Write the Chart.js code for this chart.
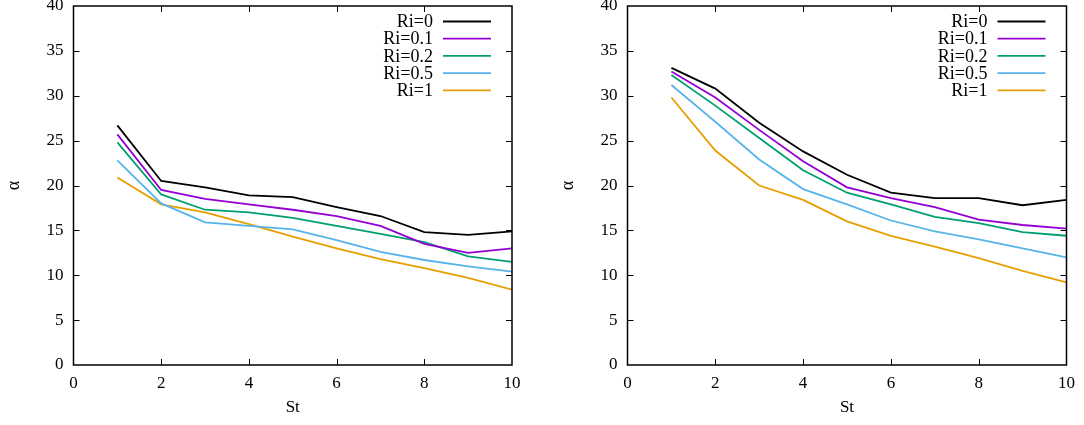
<!DOCTYPE html>
<html><head><meta charset="utf-8">
<script src="https://cdn.jsdelivr.net/npm/chart.js@4/dist/chart.umd.min.js"></script>
<style>
html,body{margin:0;padding:0;background:#fff;}
body{width:1084px;height:425px;position:relative;overflow:hidden;}
canvas{position:absolute;top:0;}
</style></head><body>
<canvas id="c1" width="554" height="425" style="left:0px"></canvas>
<canvas id="c2" width="530" height="425" style="left:554px"></canvas>
<script>
// ---- data ----
const St = [1, 2, 3, 4, 5, 6, 7, 8, 9, 10];
const seriesLabels = ['Ri=0', 'Ri=0.1', 'Ri=0.2', 'Ri=0.5', 'Ri=1'];
const seriesColors = ['#000000', '#9400d3', '#009e73', '#56b4e9', '#e69f00'];
const xTickValues = [0, 2, 4, 6, 8, 10];
const yTickValues = [0, 5, 10, 15, 20, 25, 30, 35, 40];
const xTitle = 'St';
const yTitle = 'α';

// left panel
const leftRi0   = [26.7, 20.5, 19.8, 18.9, 18.7, 17.6, 16.6, 14.8, 14.5, 14.9];
const leftRi01  = [25.7, 19.5, 18.5, 17.9, 17.3, 16.6, 15.5, 13.5, 12.5, 13.0];
const leftRi02  = [24.8, 19.0, 17.3, 17.0, 16.4, 15.5, 14.6, 13.7, 12.1, 11.5];
const leftRi05  = [22.8, 18.0, 15.9, 15.5, 15.1, 13.9, 12.6, 11.7, 11.0, 10.4];
const leftRi1   = [20.9, 17.9, 17.0, 15.7, 14.3, 13.0, 11.8, 10.8, 9.7, 8.4];
// right panel
const rightRi0  = [33.1, 30.8, 27.0, 23.8, 21.2, 19.2, 18.6, 18.6, 17.8, 18.4];
const rightRi01 = [32.7, 29.8, 26.2, 22.7, 19.8, 18.6, 17.6, 16.2, 15.6, 15.2];
const rightRi02 = [32.3, 28.9, 25.3, 21.7, 19.2, 17.9, 16.5, 15.8, 14.8, 14.4];
const rightRi05 = [31.2, 27.1, 22.9, 19.6, 17.9, 16.1, 14.9, 14.0, 13.0, 12.0];
const rightRi1  = [29.8, 23.9, 20.0, 18.4, 16.0, 14.4, 13.2, 11.9, 10.5, 9.2];

const leftSeries = [leftRi0, leftRi01, leftRi02, leftRi05, leftRi1];
const rightSeries = [rightRi0, rightRi01, rightRi02, rightRi05, rightRi1];

Chart.defaults.color = '#000';
const FONT = 'Liberation Serif, Times New Roman, serif';

const framePlugin = {
  id: 'frame',
  afterDatasetsDraw(chart) {
    const {ctx, chartArea: a, scales} = chart;
    ctx.save();
    ctx.strokeStyle = '#000';
    ctx.lineWidth = 1;
    const tl = 6;
    ctx.beginPath();
    xTickValues.forEach(v => {
      const px = Math.round(scales.x.getPixelForValue(v)) + 0.5;
      if (v !== xTickValues[0] && v !== xTickValues[xTickValues.length - 1]) {
        ctx.moveTo(px, a.bottom); ctx.lineTo(px, a.bottom - tl);
        ctx.moveTo(px, a.top); ctx.lineTo(px, a.top + tl);
      }
    });
    yTickValues.forEach(v => {
      const py = Math.round(scales.y.getPixelForValue(v)) + 0.5;
      if (v !== yTickValues[0] && v !== yTickValues[yTickValues.length - 1]) {
        ctx.moveTo(a.left, py); ctx.lineTo(a.left + tl, py);
        ctx.moveTo(a.right, py); ctx.lineTo(a.right - tl, py);
      }
    });
    ctx.stroke();
    ctx.lineWidth = 1.5;
    ctx.strokeRect(a.left, a.top, a.right - a.left, a.bottom - a.top);
    // legend
    ctx.font = '18px ' + FONT;
    ctx.textAlign = 'right';
    ctx.textBaseline = 'middle';
    chart.data.datasets.forEach((ds, i) => {
      const y = a.top + 15.5 + i * 17.2;
      ctx.fillStyle = '#000';
      ctx.fillText(ds.label, a.right - 79, y + 1);
      ctx.strokeStyle = ds.borderColor;
      ctx.lineWidth = 1.8;
      ctx.beginPath();
      ctx.moveTo(a.right - 69, y); ctx.lineTo(a.right - 21, y);
      ctx.stroke();
    });
    ctx.restore();
  }
};

function makeChart(id, seriesList, yWidth, padRight) {
  const datasets = seriesList.map((vals, i) => ({
    label: seriesLabels[i],
    data: St.map((s, j) => ({x: s, y: vals[j]})),
    borderColor: seriesColors[i],
    backgroundColor: seriesColors[i],
    borderWidth: 1.8,
    pointRadius: 0,
    tension: 0,
    fill: false
  }));
  return new Chart(document.getElementById(id), {
    type: 'line',
    data: {datasets},
    plugins: [framePlugin],
    options: {
      responsive: false,
      animation: false,
      layout: {padding: {left: 0, right: padRight, top: 6, bottom: 0}},
      plugins: {legend: {display: false}, tooltip: {enabled: false}},
      scales: {
        x: {
          type: 'linear', min: 0, max: 10,
          afterBuildTicks: s => { s.ticks = xTickValues.map(v => ({value: v})); },
          afterFit: s => { s.height = 60; s.paddingLeft = 0; s.paddingRight = 0; },
          grid: {display: false, drawTicks: false}, border: {display: false},
          ticks: {font: {family: FONT, size: 17}, padding: 8, maxRotation: 0, color: '#000'},
          title: {display: true, text: xTitle, font: {family: FONT, size: 17}, color: '#000', padding: {top: 4, bottom: 7}}
        },
        y: {
          type: 'linear', min: 0, max: 40,
          afterBuildTicks: s => { s.ticks = yTickValues.map(v => ({value: v})); },
          afterFit: s => { s.width = yWidth; s.paddingTop = 0; s.paddingBottom = 0; },
          grid: {display: false, drawTicks: false}, border: {display: false},
          ticks: {font: {family: FONT, size: 17}, padding: 10, color: '#000'},
          title: {display: true, text: yTitle, font: {family: FONT, size: 18}, color: '#000', padding: {top: 3, bottom: 4}}
        }
      }
    }
  });
}

makeChart('c1', leftSeries, 73.5, 42);
makeChart('c2', rightSeries, 73.5, 17.5);
</script>
</body></html>
